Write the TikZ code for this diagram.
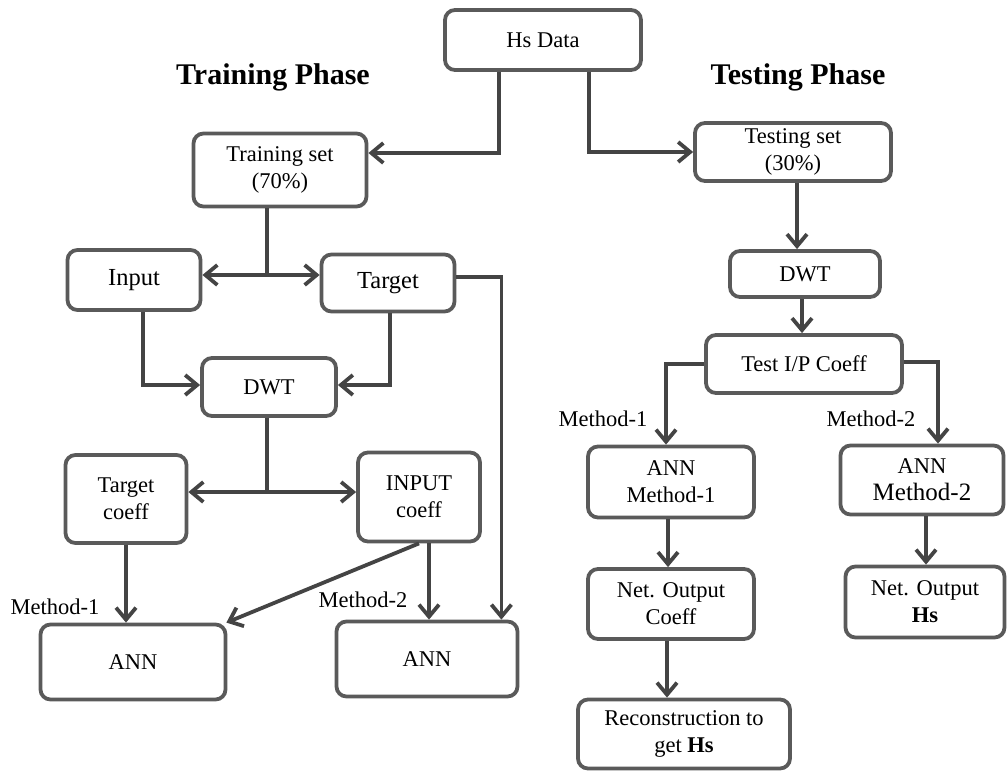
\documentclass[tikz,border=0pt]{standalone}
\usepackage{fontspec}
\setmainfont{Liberation Serif}
\usetikzlibrary{arrows.meta,calc}
\definecolor{boxgray}{HTML}{5A5A5A}
\definecolor{arrgray}{HTML}{444444}
\newcommand{\fsn}{\fontsize{22.5}{27}\selectfont}
\newcommand{\fsb}{\fontsize{24.5}{29}\selectfont}
\newcommand{\fst}{\fontsize{30}{34}\selectfont\bfseries}
\begin{document}
\begin{tikzpicture}[x=1pt,y=-1pt,
  box/.style={draw=boxgray, line width=3.8pt, rounded corners=10pt, align=center, font=\fsn, inner sep=0pt, fill=white},
  arr/.style={draw=arrgray, line width=3.8pt, -{Straight Barb[length=12pt,width=20pt]}},
  ln/.style={draw=arrgray, line width=3.8pt},
  lab/.style={font=\fsn, inner sep=0pt},
  ttl/.style={font=\fst, inner sep=0pt}]
\useasboundingbox (0,0) rectangle (1007,773);
% titles
\node[ttl] (t1) at (273,77) {Training Phase};
\node[ttl] (t2) at (798,77) {Testing Phase};
% nodes
\node[box, minimum width=196pt, minimum height=60pt] (hs) at (543,40) {Hs Data};
\node[box, minimum width=173pt, minimum height=73pt] (trs) at (280,170) {Training set\\(70\%)};
\node[box, minimum width=196pt, minimum height=58pt] (tes) at (793,152) {Testing set\\(30\%)};
\node[box, font=\fsb, minimum width=133pt, minimum height=60pt] (inp) at (134,280) {Input};
\node[box, font=\fsb, minimum width=133pt, minimum height=57pt] (tgt) at (388,283) {Target};
\node[box, minimum width=134pt, minimum height=58pt] (dwt1) at (269,387) {DWT};
\node[box, minimum width=121pt, minimum height=88pt] (tc) at (126,499) {Target\\coeff};
\node[box, minimum width=122pt, minimum height=89pt] (ic) at (419,497) {INPUT\\coeff};
\node[box, minimum width=185pt, minimum height=75pt] (ann1) at (133,662) {ANN};
\node[box, minimum width=181pt, minimum height=75pt] (ann2) at (427,659) {ANN};
\node[box, minimum width=150pt, minimum height=46pt] (dwt2) at (805,274) {DWT};
\node[box, minimum width=196pt, minimum height=58pt] (tip) at (804,364) {Test I/P Coeff};
\node[box, minimum width=166pt, minimum height=71pt] (am1) at (671,482) {ANN\\Method-1};
\node[box, minimum width=163pt, minimum height=69pt] (am2) at (922,480) {ANN\\{\fontsize{25}{27}\selectfont Method-2}};
\node[box, minimum width=166pt, minimum height=70pt] (no1) at (671,604) {Net. Output\\Coeff};
\node[box, minimum width=159pt, minimum height=71pt] (no2) at (925,602) {Net. Output\\\textbf{Hs}};
\node[box, minimum width=212pt, minimum height=69pt] (rec) at (684,734) {Reconstruction to\\get \textbf{Hs}};
% labels
\node[lab] (m1a) at (55,607) {Method-1};
\node[lab] (m2a) at (363,600) {Method-2};
\node[lab] (m1b) at (603,419) {Method-1};
\node[lab] (m2b) at (871,419) {Method-2};
% junctions
\coordinate (j1) at (267,275);
\coordinate (j2) at (267,492);
% connectors
\draw[arr] ([xshift=-44pt]hs.south) |- ([yshift=17pt]trs.east);
\draw[arr] ([xshift=46pt]hs.south) |- (tes.west);
\draw[ln] ([xshift=-13pt]trs.south) -- (j1);
\draw[arr] (j1) -- (inp.east |- j1);
\draw[arr] (j1) -- (tgt.west |- j1);
\draw[arr] ([xshift=9pt]inp.south) |- ([yshift=2pt]dwt1.west);
\draw[arr] ([xshift=2pt]tgt.south) |- ([yshift=2pt]dwt1.east);
\draw[ln] ([xshift=-2pt]dwt1.south) -- (j2);
\draw[arr] (j2) -- (tc.east |- j2);
\draw[arr] (j2) -- (ic.west |- j2);
\draw[arr] (tc.south) -- (tc.south |- ann1.north);
\draw[arr] (ic.south) -- ([xshift=-1pt]ann1.north east);
\draw[arr] ([xshift=10pt]ic.south) -- ([xshift=2pt]ann2.north);
\draw[arr] ([yshift=6pt]tgt.east) -| ([xshift=-18pt]ann2.north east);
\draw[arr] ([xshift=4pt]tes.south) -- ([xshift=-8pt]dwt2.north);
\draw[arr] ([xshift=-3pt]dwt2.south) -- ([xshift=-2pt]tip.north);
\draw[arr] (tip.west) -| ([xshift=-5pt]am1.north);
\draw[arr] ([yshift=2pt]tip.east) -| ([xshift=16pt]am2.north);
\draw[arr] ([xshift=-3pt]am1.south) -- ([xshift=-3pt]no1.north);
\draw[arr] ([xshift=-4pt]no1.south) -- ([xshift=-17pt]rec.north);
\draw[arr] ([xshift=4pt]am2.south) -- ([xshift=1pt]no2.north);
\end{tikzpicture}
\end{document}
